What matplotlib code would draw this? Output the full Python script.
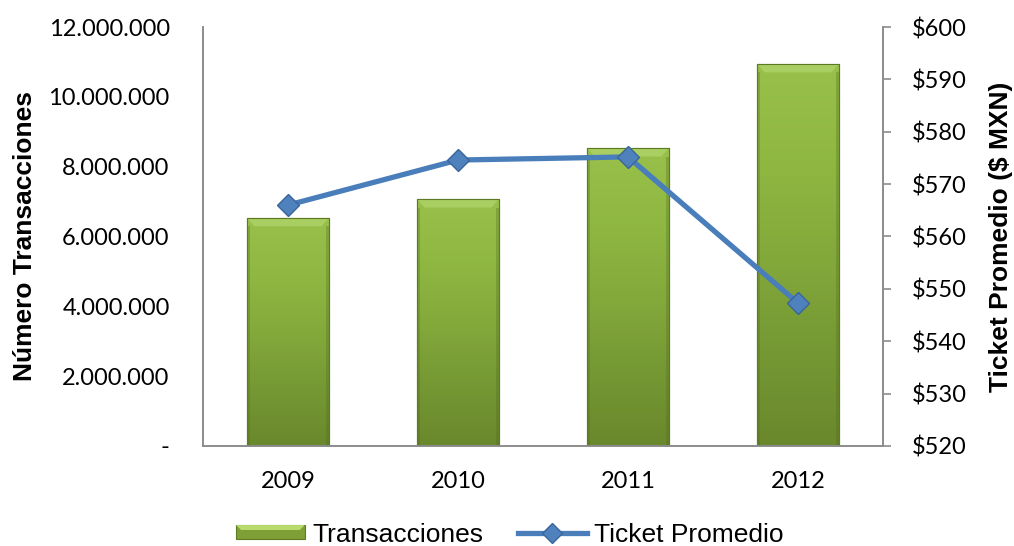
import numpy as np
import matplotlib
matplotlib.use("Agg")
import matplotlib.pyplot as plt
from matplotlib.colors import LinearSegmentedColormap
from matplotlib.ticker import FuncFormatter, FixedLocator
from matplotlib.patches import Polygon, Rectangle
from matplotlib.lines import Line2D
from matplotlib.legend_handler import HandlerPatch

years = ["2009", "2010", "2011", "2012"]
transacciones = [6530000, 7070000, 8530000, 10940000]
ticket_promedio = [566.0, 574.6, 575.2, 547.3]

left_ticks = [0, 2000000, 4000000, 6000000, 8000000, 10000000, 12000000]
right_ticks = [520, 530, 540, 550, 560, 570, 580, 590, 600]

tick_font = "Lato"
label_font = "Liberation Sans"

fig = plt.figure(figsize=(10.14, 5.46), dpi=100)
ax = fig.add_axes([0.2002, 0.1832, 0.6706, 0.7673])
ax2 = ax.twinx()

x = np.arange(len(years))
bar_w = 0.48
bars = ax.bar(x, transacciones, width=bar_w, color="#86a83b",
              edgecolor="#5f7a25", linewidth=0.8, zorder=2)

# shaded fill for each bar: lighter on top, darker at the bottom
cmap = LinearSegmentedColormap.from_list(
    "verde", ["#98c04a", "#8fb842", "#84a93b", "#759834", "#6a882c"])
grad = np.linspace(0, 1, 256).reshape(-1, 1)
for rect in bars:
    x0, w, h = rect.get_x(), rect.get_width(), rect.get_height()
    im = ax.imshow(grad, cmap=cmap, aspect="auto", origin="upper",
                   extent=(x0, x0 + w, 0, h), zorder=2.1,
                   interpolation="bicubic")
    im.set_clip_path(rect)
    # bevel on the top edge
    bev_y = 12000000 * 0.02
    bev_x = w * 0.09
    top = Polygon([(x0, h), (x0 + w, h), (x0 + w - bev_x, h - bev_y),
                   (x0 + bev_x, h - bev_y)], closed=True,
                  facecolor="#a9cf62", edgecolor="none", zorder=2.2)
    ax.add_patch(top)
    # darker side edges
    for sx, ex in ((x0, x0 + w * 0.035), (x0 + w - w * 0.035, x0 + w)):
        ax.add_patch(Rectangle((sx, 0), ex - sx, h - bev_y,
                               facecolor="#4f6a1c", alpha=0.3,
                               edgecolor="none", zorder=2.2))
    outline = Rectangle((x0, 0), w, h, facecolor="none",
                        edgecolor="#5f7a25", linewidth=0.8, zorder=2.3)
    ax.add_patch(outline)

ax.set_xlim(-0.5, len(years) - 0.5)
ax.set_ylim(0, 12000000)
ax2.set_ylim(520, 600)

line, = ax2.plot(x, ticket_promedio, color="#4a7ebb", linewidth=3.8,
                 marker="D", markersize=11, markerfacecolor="#4f81bd",
                 markeredgecolor="#3a659a", markeredgewidth=1.0, zorder=5)

def miles(v, pos):
    if v == 0:
        return "-"
    return f"{int(v):,}".replace(",", ".")

ax.yaxis.set_major_locator(FixedLocator(left_ticks))
ax.yaxis.set_major_formatter(FuncFormatter(miles))
ax2.yaxis.set_major_locator(FixedLocator(right_ticks))
ax2.yaxis.set_major_formatter(FuncFormatter(lambda v, p: f"${int(v)}"))

ax.set_xticks(x)
ax.set_xticklabels(years)

for a in (ax, ax2):
    a.spines["top"].set_visible(False)
    for s in ("left", "right", "bottom"):
        a.spines[s].set_color("#8c8c8c")
        a.spines[s].set_linewidth(1.2)

ax.tick_params(axis="y", length=0, pad=24, labelsize=17)
ax.tick_params(axis="x", length=0, pad=18, labelsize=17)
ax2.tick_params(axis="y", length=6, width=1.2, color="#8c8c8c", pad=15,
                labelsize=17)
for lbl in ax.get_yticklabels() + ax.get_xticklabels() + ax2.get_yticklabels():
    lbl.set_fontfamily(tick_font)

ax.set_ylabel("Número Transacciones", fontsize=19, fontweight="bold",
              family=label_font)
ax2.set_ylabel("Ticket Promedio ($ MXN)", fontsize=19, fontweight="bold",
               family=label_font)
ax.yaxis.set_label_coords(-0.244, 0.5)
ax2.yaxis.set_label_coords(1.156, 0.5)

ax.set_zorder(1)
ax2.set_zorder(2)
ax2.patch.set_visible(False)


class BevelHandler(HandlerPatch):
    def create_artists(self, legend, orig_handle, xdescent, ydescent,
                       width, height, fontsize, trans):
        base = Rectangle((-xdescent, -ydescent), width, height,
                         facecolor="#7d9f36", edgecolor="#5f7a25",
                         linewidth=0.8, transform=trans)
        b = height * 0.35
        top = Polygon([(-xdescent, -ydescent + height),
                       (-xdescent + width, -ydescent + height),
                       (-xdescent + width - b, -ydescent + height - b),
                       (-xdescent + b, -ydescent + height - b)],
                      closed=True, facecolor="#b7db6c", edgecolor="none",
                      transform=trans)
        return [base, top]


bar_handle = Rectangle((0, 0), 1, 1)
line_handle = Line2D([], [], color="#4a7ebb", linewidth=3.8, marker="D",
                     markersize=10, markerfacecolor="#4f81bd",
                     markeredgecolor="#3a659a")
leg = fig.legend([bar_handle, line_handle], ["Transacciones", "Ticket Promedio"],
                 loc="center", bbox_to_anchor=(0.503, 0.021), ncol=2,
                 frameon=False, handlelength=2.6, handleheight=0.45,
                 columnspacing=1.3, handletextpad=0.3, borderpad=0,
                 prop={"family": label_font, "size": 19},
                 handler_map={Rectangle: BevelHandler()})

fig.savefig("out.png", dpi=100)
